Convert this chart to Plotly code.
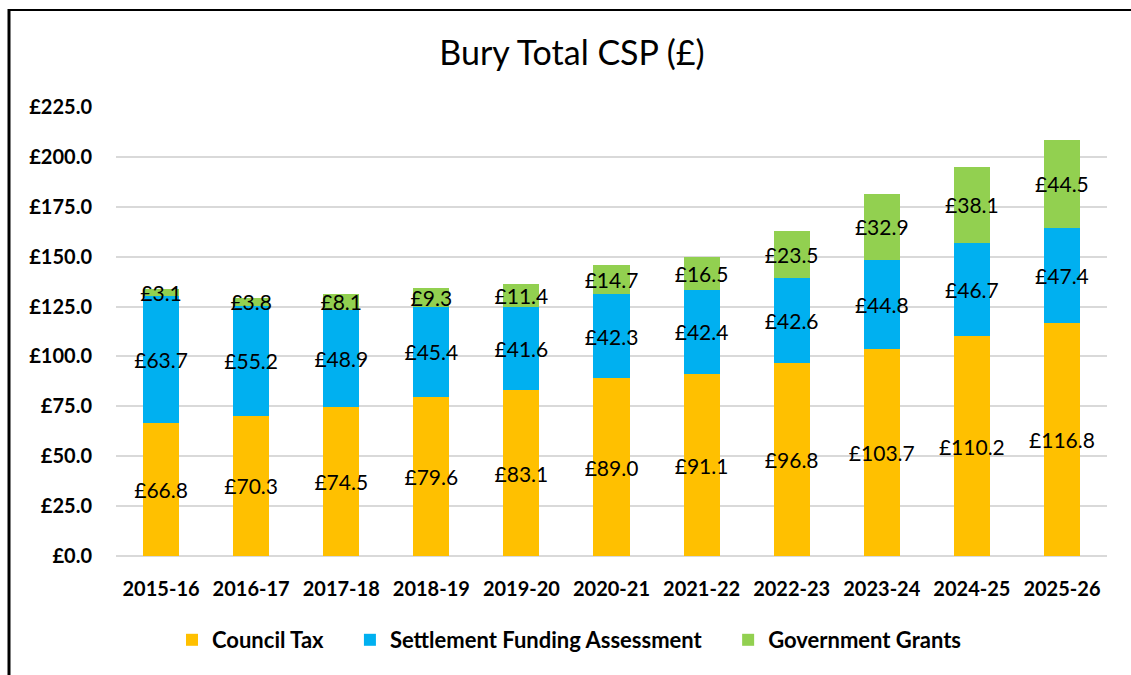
import plotly.graph_objects as go

years = ["2015-16", "2016-17", "2017-18", "2018-19", "2019-20", "2020-21",
         "2021-22", "2022-23", "2023-24", "2024-25", "2025-26"]
council_tax = [66.8, 70.3, 74.5, 79.6, 83.1, 89.0, 91.1, 96.8, 103.7, 110.2, 116.8]
sfa = [63.7, 55.2, 48.9, 45.4, 41.6, 42.3, 42.4, 42.6, 44.8, 46.7, 47.4]
grants = [3.1, 3.8, 8.1, 9.3, 11.4, 14.7, 16.5, 23.5, 32.9, 38.1, 44.5]

series = [
    ("Council Tax", council_tax, "#FFC000"),
    ("Settlement Funding Assessment", sfa, "#00B0F0"),
    ("Government Grants", grants, "#92D050"),
]

FONT = "Lato"
W, H = 1131, 675
ML, MR, MT, MB = 116, 24, 107, 119
PW, PH = W - ML - MR, H - MT - MB

def px_x(x):
    return (x - ML) / PW

def px_y(y):
    return (H - MB - y) / PH

PAD = "\u00a0" * 4
fig = go.Figure()
for name, vals, col in series:
    fig.add_trace(go.Bar(
        x=years, y=vals, name=name + (PAD if name != series[-1][0] else ""),
        marker=dict(color=col, line=dict(width=0)),
        text=[f"£{v:.1f}" for v in vals], textposition="inside",
        insidetextanchor="middle", textangle=0, constraintext="none",
        textfont=dict(family=FONT, size=21, color="#000000"),
        cliponaxis=False, hovertemplate=name + ": £%{y:.1f}<extra></extra>",
    ))

fig.update_layout(
    barmode="stack", bargap=0.6,
    width=W, height=H,
    margin=dict(l=ML, r=MR, t=MT, b=MB),
    paper_bgcolor="white", plot_bgcolor="white",
    title=dict(text="Bury Total CSP (£)", x=572 / W, xanchor="center", y=1 - 53 / H, yanchor="middle",
               font=dict(family=FONT, size=34, color="#000000")),
    font=dict(family=FONT, color="#000000"),
    legend=dict(orientation="h", x=px_x(172), xanchor="left", y=px_y(640), yanchor="middle",
                font=dict(family=FONT, size=22, color="#000000", weight="bold"),
                itemwidth=30, traceorder="normal"),
    xaxis=dict(showgrid=False, showline=False, ticks="", ticklabelstandoff=19,
               tickfont=dict(family=FONT, size=20, color="#000000", weight="bold")),
    yaxis=dict(range=[0, 225], dtick=25, tickprefix="£", tickformat=".1f",
               showgrid=True, gridcolor="#D9D9D9", gridwidth=2, zeroline=True,
               zerolinecolor="#D9D9D9", zerolinewidth=2, showline=False, ticks="",
               ticklabelstandoff=23,
               tickfont=dict(family=FONT, size=20, color="#000000", weight="bold")),
    shapes=[
        dict(type="line", xref="paper", yref="paper", x0=px_x(9), x1=px_x(W + 5),
             y0=px_y(10), y1=px_y(10), line=dict(color="black", width=2)),
        dict(type="line", xref="paper", yref="paper", x0=px_x(9), x1=px_x(9),
             y0=px_y(H + 5), y1=px_y(9), line=dict(color="black", width=3)),
    ],
)

fig.write_html("out.html", config={"displayModeBar": False},
               post_script="document.body.style.margin='0';document.body.style.overflow='hidden';")
